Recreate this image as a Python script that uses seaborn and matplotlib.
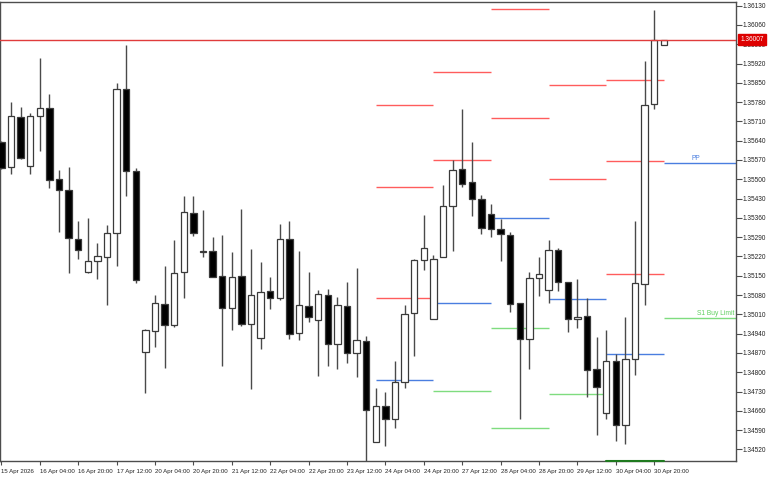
import numpy as np
import pandas as pd
import seaborn as sns
import matplotlib
matplotlib.use("Agg")
from matplotlib import pyplot as plt
from matplotlib import transforms

# H4 candles, 15 Apr 12:00 -> 1 May 00:00
opens = [1.35636, 1.35544, 1.35726, 1.35549, 1.35729, 1.35758, 1.35500, 1.35462, 1.35284, 1.35162,
         1.35203, 1.35217, 1.35304, 1.35828, 1.35530, 1.34874, 1.34949, 1.35046, 1.34971, 1.35162,
         1.35377, 1.35240, 1.35239, 1.35148, 1.35033, 1.35149, 1.34974, 1.34924, 1.35095, 1.35068,
         1.35282, 1.34941, 1.35041, 1.34988, 1.35081, 1.34902, 1.35040, 1.34871, 1.34914, 1.34548,
         1.34679, 1.34629, 1.34763, 1.35014, 1.35206, 1.34993, 1.35217, 1.35403, 1.35536, 1.35489,
         1.35427, 1.35373, 1.35318, 1.35299, 1.35051, 1.34919, 1.35141, 1.35097, 1.35245, 1.35128,
         1.34992, 1.35004, 1.34812, 1.34651, 1.34842, 1.34607, 1.34847, 1.35119, 1.35772, 1.35989]
highs = [1.35640, 1.35780, 1.35762, 1.35741, 1.35940, 1.35809, 1.35532, 1.35544, 1.35347, 1.35360,
         1.35269, 1.35334, 1.35850, 1.35987, 1.35541, 1.34958, 1.35080, 1.35186, 1.35278, 1.35439,
         1.35439, 1.35388, 1.35289, 1.35298, 1.35235, 1.35393, 1.35247, 1.35200, 1.35145, 1.35338,
         1.35350, 1.35241, 1.35162, 1.35097, 1.35101, 1.35072, 1.35127, 1.35178, 1.34931, 1.34742,
         1.34728, 1.34840, 1.35045, 1.35212, 1.35370, 1.35225, 1.35479, 1.35570, 1.35754, 1.35634,
         1.35443, 1.35409, 1.35356, 1.35307, 1.35053, 1.35162, 1.35219, 1.35278, 1.35252, 1.35128,
         1.35137, 1.35071, 1.34927, 1.34953, 1.34865, 1.35001, 1.35348, 1.35930, 1.36114, 1.36007]
lows = [1.35538, 1.35520, 1.35572, 1.35520, 1.35603, 1.35468, 1.35310, 1.35161, 1.35211, 1.35159,
        1.35137, 1.35044, 1.35186, 1.35438, 1.35122, 1.34726, 1.34892, 1.34814, 1.34963, 1.35068,
        1.35295, 1.35218, 1.35144, 1.34823, 1.34952, 1.34968, 1.34738, 1.34883, 1.35028, 1.35062,
        1.34922, 1.34916, 1.34983, 1.34787, 1.34824, 1.34812, 1.34832, 1.34781, 1.34478, 1.34548,
        1.34532, 1.34597, 1.34742, 1.34860, 1.35170, 1.34993, 1.35217, 1.35240, 1.35471, 1.35368,
        1.35300, 1.35289, 1.35204, 1.35019, 1.34629, 1.34811, 1.35076, 1.35053, 1.35096, 1.34946,
        1.34959, 1.34711, 1.34573, 1.34632, 1.34550, 1.34539, 1.34789, 1.35043, 1.35754, 1.35989]
closes = [1.35542, 1.35728, 1.35576, 1.35729, 1.35757, 1.35497, 1.35462, 1.35286, 1.35243, 1.35203,
          1.35220, 1.35306, 1.35826, 1.35531, 1.35134, 1.34952, 1.35050, 1.34972, 1.35159, 1.35380,
          1.35305, 1.35236, 1.35146, 1.35033, 1.35144, 1.34974, 1.35079, 1.35092, 1.35068, 1.35282,
          1.34938, 1.35043, 1.35000, 1.35083, 1.34902, 1.35043, 1.34871, 1.34916, 1.34663, 1.34679,
          1.34629, 1.34763, 1.35011, 1.35206, 1.35251, 1.35212, 1.35403, 1.35533, 1.35482, 1.35428,
          1.35323, 1.35320, 1.35300, 1.35047, 1.34922, 1.35141, 1.35156, 1.35242, 1.35127, 1.34992,
          1.34999, 1.34809, 1.34747, 1.34842, 1.34609, 1.34847, 1.35125, 1.35768, 1.36006, 1.36007]

time_labels = ["15 Apr 2026", "16 Apr 04:00", "16 Apr 20:00", "17 Apr 12:00", "20 Apr 04:00",
               "20 Apr 20:00", "21 Apr 12:00", "22 Apr 04:00", "22 Apr 20:00", "23 Apr 12:00",
               "24 Apr 04:00", "24 Apr 20:00", "27 Apr 12:00", "28 Apr 04:00", "28 Apr 20:00",
               "29 Apr 12:00", "30 Apr 04:00", "30 Apr 20:00"]

price_ticks = [1.34520, 1.34590, 1.34660, 1.34730, 1.34800, 1.34870, 1.34940, 1.35010,
               1.35080, 1.35150, 1.35220, 1.35290, 1.35360, 1.35430, 1.35500, 1.35570,
               1.35640, 1.35710, 1.35780, 1.35850, 1.35920, 1.35990, 1.36060, 1.36130]

# daily pivot levels (start bar of each day)
piv_start = [39, 45, 51, 57, 63]
piv_red = [[1.35768, 1.35473, 1.35068], [1.35889, 1.35570], [1.36116, 1.35721],
           [1.35842, 1.35500], [1.35860, 1.35567, 1.35157]]
piv_blue = [[1.34772], [1.35050], [1.35358], [1.35064], [1.34866]]
piv_green = [[], [1.34733], [1.34959, 1.34598], [1.34720], []]

pp_now = 1.35558
s1_now = 1.34997
bid = 1.36007

RED = "#ff5c5c"
BLUE = "#4a7ee0"
GREEN = "#7fdc7f"
EDGE = "#3a3a3a"
FS = 4.4

df = pd.DataFrame({"open": opens, "high": highs, "low": lows, "close": closes})
df["bar"] = np.arange(len(df))
df["up"] = df["close"] >= df["open"]
df["bottom"] = df[["open", "close"]].min(axis=1)
df["height"] = (df["close"] - df["open"]).abs().clip(lower=0.000008)

sns.set_theme(style="white")
plt.rcParams["font.family"] = ["Liberation Sans", "DejaVu Sans"]

fig = plt.figure(figsize=(7.68, 4.8), dpi=100)
ax = fig.add_axes([0.0, 19 / 480, 736 / 768, 459.5 / 480])

xmax = 76.52
ax.set_xlim(-0.15, xmax)
ax.set_ylim(1.34478, 1.36145)

# wicks then bodies
ax.vlines(df["bar"], df["low"], df["high"], color="#4a4a4a", lw=1, zorder=2)
ax.bar(df["bar"], df["height"], bottom=df["bottom"], width=0.66,
       color=np.where(df["up"], "white", "black"), edgecolor=EDGE, linewidth=0.9, zorder=3)

# pivot segments
for i, s in enumerate(piv_start):
    for lv in piv_red[i]:
        ax.hlines(lv, s, s + 6, color=RED, lw=1, zorder=1)
    for lv in piv_blue[i]:
        ax.hlines(lv, s, s + 6, color=BLUE, lw=1, zorder=1)
    for lv in piv_green[i]:
        ax.hlines(lv, s, s + 6, color=GREEN, lw=1, zorder=1)

ax.hlines(pp_now, 69, xmax, color=BLUE, lw=1)
ax.hlines(s1_now, 69, xmax, color=GREEN, lw=1)
ax.text(71.9, pp_now + 0.00004, "PP", color=BLUE, fontsize=FS + 0.4, va="bottom", ha="left")
ax.text(76.3, s1_now + 0.00004, "S1 Buy Limit", color="#5fcf5f", fontsize=FS + 0.4,
        va="bottom", ha="right")

# bid line + price label
ax.axhline(bid, color="#e03c3c", lw=1, zorder=4)
trans = transforms.blended_transform_factory(ax.transAxes, ax.transData)
ax.text(1.006, bid, "1.36007", transform=trans, color="white", fontsize=FS + 0.3,
        va="center", ha="left", clip_on=False, zorder=10,
        bbox=dict(boxstyle="square,pad=0.35", fc="#dd0000", ec="#dd0000"))

# last-day marker on time axis
ax.plot([63, 69], [1.34478, 1.34478], color="#1f7a1f", lw=1.5, clip_on=False, zorder=5)

# axes styling
for sp in ax.spines.values():
    sp.set_color("#4d4d4d")
    sp.set_linewidth(1)
ax.yaxis.tick_right()
ax.set_yticks(price_ticks)
ax.set_yticklabels([f"{v:.5f}" for v in price_ticks])
ax.tick_params(axis="y", right=True, direction="out", length=4, width=0.8,
               colors="#4d4d4d", labelsize=FS + 0.3, pad=1, labelcolor="#222222")
ax.set_xticks(np.arange(0, 69, 4))
ax.set_xticklabels(time_labels)
for lbl in ax.get_xticklabels():
    lbl.set_horizontalalignment("left")
ax.tick_params(axis="x", bottom=True, direction="out", length=3, width=0.8,
               colors="#4d4d4d", labelsize=FS, pad=3, labelcolor="#222222")
ax.grid(False)

fig.savefig("out.png", dpi=100)
